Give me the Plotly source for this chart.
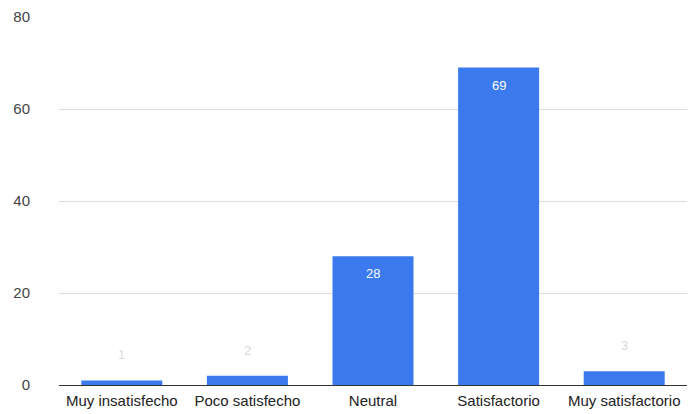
import plotly.graph_objects as go

# Survey satisfaction counts
categorias = ["Muy insatisfecho", "Poco satisfecho", "Neutral", "Satisfactorio", "Muy satisfactorio"]
respuestas = [1, 2, 28, 69, 3]
y_ticks = [0, 20, 40, 60, 80]

BAR_COLOR = "#3a79ee"

fig = go.Figure(
    go.Bar(
        x=categorias,
        y=respuestas,
        marker=dict(color=BAR_COLOR, line=dict(width=0)),
        hoverinfo="x+y",
    )
)

# Value labels: inside the bar top for tall bars, faint above for short ones
for cat, val in zip(categorias, respuestas):
    inside = val >= 10
    fig.add_annotation(
        x=cat, y=val, text=str(val), showarrow=False,
        yanchor="top" if inside else "bottom",
        yshift=-8 if inside else 16,
        font=dict(family="Liberation Sans, Arial", size=13,
                  color="#ffffff" if inside else "#d9d9d9"),
    )

fig.update_layout(
    width=691, height=414,
    margin=dict(l=59, r=4, t=17, b=29),
    paper_bgcolor="white", plot_bgcolor="white",
    bargap=0.355,
    showlegend=False,
    font=dict(family="Liberation Sans, Arial", size=12, color="#222"),
)
fig.update_xaxes(
    showgrid=False, showline=True, linecolor="#333", linewidth=1,
    ticks="", tickfont=dict(size=15, color="#222"), ticklabelstandoff=2,
)
fig.update_yaxes(
    range=[0, 80], tickvals=y_ticks,
    showgrid=True, gridcolor="#dcdcdc", gridwidth=1,
    zeroline=False, showline=False, ticks="",
    tickfont=dict(size=15, color="#444"), ticklabelstandoff=28,
)

fig.write_html("out.html")
